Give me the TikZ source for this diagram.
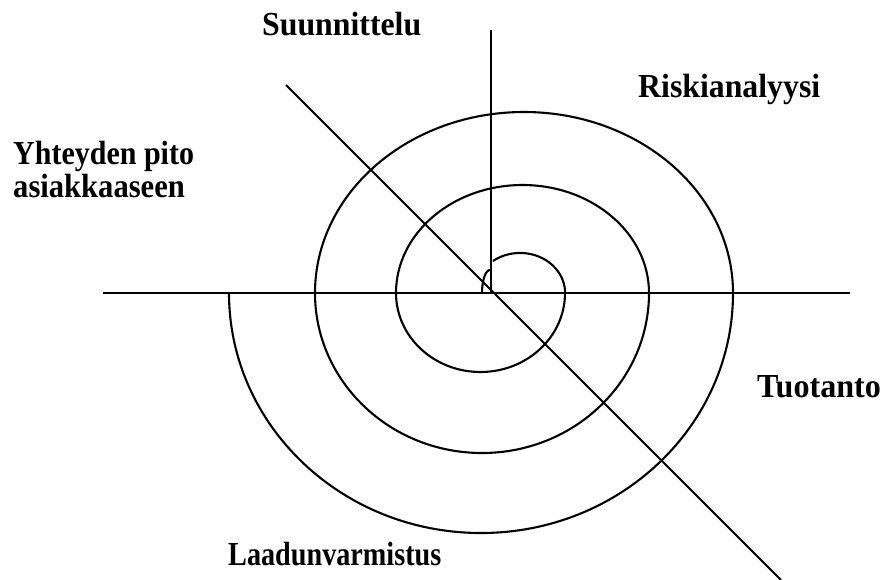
\documentclass[tikz,border=0pt]{standalone}
\usepackage{fontspec}
\setmainfont{Liberation Serif}
\newcommand{\lbltext}[2]{\scalebox{#1}[1.12]{#2}}
\begin{document}
\begin{tikzpicture}[x=1pt,y=1pt,
  ln/.style={line width=2.2pt},
  sp/.style={line width=2.1pt},
  lbl/.style={font=\fontsize{30}{34}\selectfont\bfseries, inner sep=0pt, anchor=base west}]
\useasboundingbox (0,0) rectangle (888,-579);
% axes
\coordinate (hL) at (103,-293);
\coordinate (hR) at (850,-293);
\coordinate (vT) at (491,-30);
\coordinate (vB) at (491,-293);
\coordinate (dT) at (286,-85);
\coordinate (dB) at (781,-580);
\draw[ln] (hL) -- (hR);
\draw[ln] (vT) -- (vB);
\draw[line width=1.8pt] (dT) -- (dB);
% spiral
\draw[sp] (482,-293) arc[start angle=180,end angle=90,x radius=8pt,y radius=23pt];
\draw[sp] (493,-261) arc[start angle=127,end angle=0,x radius=45pt,y radius=40pt];
\draw[sp] (565,-293) arc[start angle=0,end angle=-180,x radius=84.5pt,y radius=79pt];
\draw[sp] (396,-293) arc[start angle=180,end angle=0,x radius=126.5pt,y radius=108pt];
\draw[sp] (649,-293) arc[start angle=0,end angle=-180,x radius=167pt,y radius=160pt];
\draw[sp] (315,-293) arc[start angle=180,end angle=0,x radius=209pt,y radius=181pt];
\draw[sp] (733,-293) arc[start angle=0,end angle=-180,x radius=252pt,y radius=240pt];
% labels
\node[lbl] (suun) at (262,-35) {\lbltext{1.06}{Suunnittelu}};
\node[lbl] (risk) at (638,-97) {\lbltext{1.06}{Riskianalyysi}};
\node[lbl] (yht1) at (13,-164) {\lbltext{1.0}{Yhteyden pito}};
\node[lbl] (yht2) at (13,-197) {\lbltext{1.02}{asiakkaaseen}};
\node[lbl] (tuot) at (757,-397) {\lbltext{1.07}{Tuotanto}};
\node[lbl] (laad) at (228,-565) {\lbltext{0.94}{Laadunvarmistus}};
\end{tikzpicture}
\end{document}
